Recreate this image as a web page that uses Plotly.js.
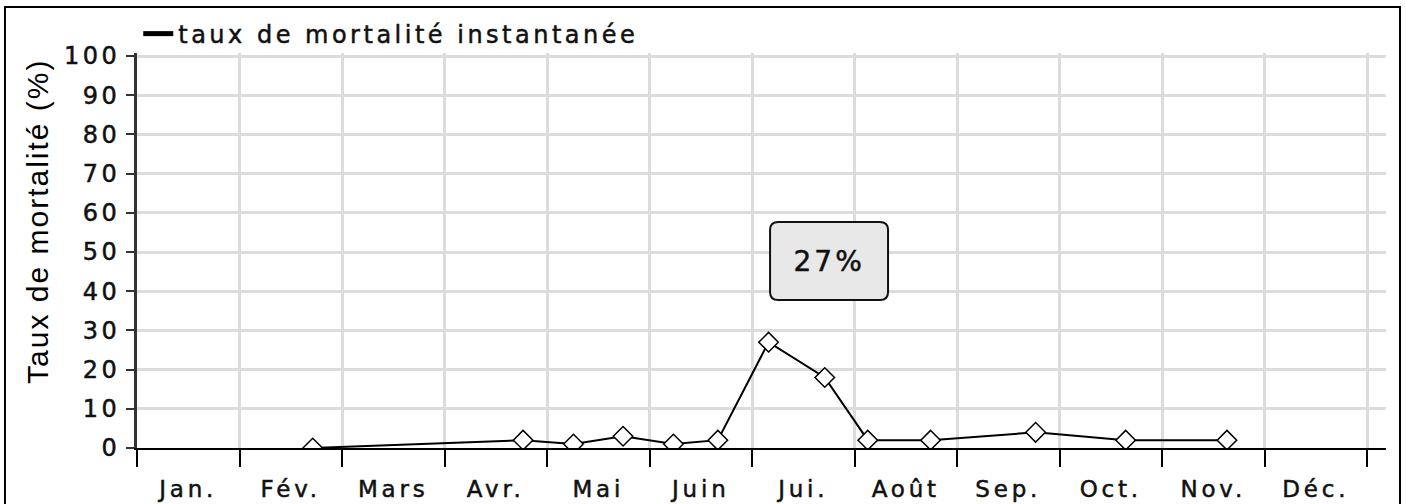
<!DOCTYPE html>
<html>
<head>
<meta charset="utf-8">
<script src="https://cdn.plot.ly/plotly-3.0.1.min.js"></script>
<style>
  html, body { margin: 0; padding: 0; background: #fff; }
  #chart { width: 1406px; height: 504px; }
  #chart .legendtext, #chart .ytick text { letter-spacing: 3.5px; }
  #chart .x2tick text { letter-spacing: 3.8px; }
  #chart .legendtext, #chart .ytick text, #chart .x2tick text, #chart g.annotation[data-index="0"] text {
    stroke: #111; stroke-width: 0.5px;
  }
  #chart .legend .scrollbox, #chart .legend { clip-path: none !important; }
  #chart g.annotation[data-index="0"] text { letter-spacing: 3px; }
  #chart g.annotation[data-index="1"] text { letter-spacing: 2px; }
</style>
</head>
<body>
<div id="chart"></div>
<script>
// ---- data ----
const monthLabels = ['Jan.', 'Fév.', 'Mars', 'Avr.', 'Mai', 'Juin', 'Jui.', 'Août', 'Sep.', 'Oct.', 'Nov.', 'Déc.'];
const daysInMonth = [31, 28, 31, 30, 31, 30, 31, 31, 30, 31, 30, 31];
const sampleDates = ['02-21', '04-24', '05-09', '05-24', '06-08', '06-21', '07-06', '07-23', '08-05', '08-24', '09-24', '10-21', '11-20'];
const mortalityRates = [0, 2, 1, 3, 1, 2, 27, 18, 2, 2, 4, 2, 2];
const seriesName = 'taux de mortalité instantanée';
const yAxisTitle = 'Taux de mortalité (%)';
const yTicks = [0, 10, 20, 30, 40, 50, 60, 70, 80, 90, 100];

// month axis: each month occupies one equal unit
function monthPos(md) {
  const [m, d] = md.split('-').map(Number);
  return (m - 1) + (d - 1) / daysInMonth[m - 1];
}
const xs = sampleDates.map(monthPos);
const monthBounds = monthLabels.map((_, i) => i).concat([monthLabels.length]);
const monthMids = monthLabels.map((_, i) => i + 0.5);

const XR = [0, 12.185];
const YR = [0, 100.77];
const TXT = '#111';
const FONT = 'DejaVu Sans, Verdana, sans-serif';

const peak = Math.max(...mortalityRates);

const traces = [
  {
    x: xs, y: mortalityRates, type: 'scatter', mode: 'lines+markers',
    line: { color: '#000', width: 2 },
    marker: { symbol: 'diamond', size: 15, color: '#fff', line: { color: '#000', width: 1.5 } },
    showlegend: false, hoverinfo: 'x+y'
  },
  {
    x: [null], y: [null], type: 'scatter', mode: 'lines',
    name: seriesName, line: { color: '#000', width: 5 },
    showlegend: true, hoverinfo: 'skip'
  },
  {
    x: monthMids, y: monthMids.map(() => null), xaxis: 'x2', type: 'scatter', mode: 'markers',
    showlegend: false, hoverinfo: 'skip'
  }
];

const x0 = 6.176, x1 = 7.327, y0 = 37.76, y1 = 57.65, rx = 0.08, ry = 2.0;
const boxPath = `M ${x0 + rx},${y1} L ${x1 - rx},${y1} Q ${x1},${y1} ${x1},${y1 - ry} L ${x1},${y0 + ry} Q ${x1},${y0} ${x1 - rx},${y0} L ${x0 + rx},${y0} Q ${x0},${y0} ${x0},${y0 + ry} L ${x0},${y1 - ry} Q ${x0},${y1} ${x0 + rx},${y1} Z`;

const layout = {
  width: 1406, height: 504,
  margin: { l: 137, r: 20, t: 53, b: 56, pad: 0 },
  paper_bgcolor: '#fff', plot_bgcolor: '#fff',
  font: { family: FONT, color: TXT, size: 24 },
  showlegend: true,
  legend: {
    x: 0.001, xanchor: 'left', y: 1.105, yanchor: 'top',
    orientation: 'h', bgcolor: 'rgba(0,0,0,0)', borderwidth: 0,
    font: { family: FONT, size: 24, color: TXT },
    itemwidth: 30
  },
  xaxis: {
    range: XR, type: 'linear', fixedrange: true,
    tickmode: 'array', tickvals: monthBounds, showticklabels: false,
    ticks: 'outside', ticklen: 17, tickwidth: 2, tickcolor: '#000',
    showgrid: true, gridcolor: '#dcdcdc', gridwidth: 3,
    showline: true, linecolor: '#000', linewidth: 2,
    zeroline: false
  },
  xaxis2: {
    range: XR, type: 'linear', overlaying: 'x', side: 'bottom', fixedrange: true,
    tickmode: 'array', tickvals: monthMids, ticktext: monthLabels,
    ticks: '', showgrid: false, showline: false, zeroline: false,
    tickfont: { family: FONT, size: 23, color: TXT },
    ticklabelstandoff: 25
  },
  yaxis: {
    range: YR, fixedrange: true,
    tickmode: 'array', tickvals: yTicks,
    ticks: 'outside', ticklen: 8, tickwidth: 2, tickcolor: '#333',
    tickfont: { family: FONT, size: 24, color: TXT },
    ticklabelstandoff: 1,
    showgrid: true, gridcolor: '#dcdcdc', gridwidth: 3,
    showline: true, linecolor: '#333', linewidth: 3,
    zeroline: false, automargin: false
  },
  shapes: [
    { type: 'path', xref: 'x', yref: 'y', path: boxPath, fillcolor: '#e8e8e8', line: { color: '#111', width: 2 }, layer: 'above' },
    { type: 'rect', xref: 'paper', yref: 'paper', x0: -0.1057, x1: 1.0112, y0: -0.2, y1: 1.1165, line: { color: '#000', width: 2 }, fillcolor: 'rgba(0,0,0,0)' }
  ],
  annotations: [
    { xref: 'x', yref: 'y', x: (x0 + x1) / 2, y: (y0 + y1) / 2, text: peak + '%', showarrow: false,
      font: { family: FONT, size: 28, color: '#111' } },
    { xref: 'paper', yref: 'paper', x: -0.0793, y: 0.5747, xanchor: 'center', yanchor: 'middle',
      text: yAxisTitle, textangle: -90, showarrow: false,
      font: { family: 'Liberation Sans, Arial, sans-serif', size: 30, color: '#000' } }
  ]
};

Plotly.newPlot('chart', traces, layout, { displayModeBar: false, staticPlot: true });
</script>
</body>
</html>
